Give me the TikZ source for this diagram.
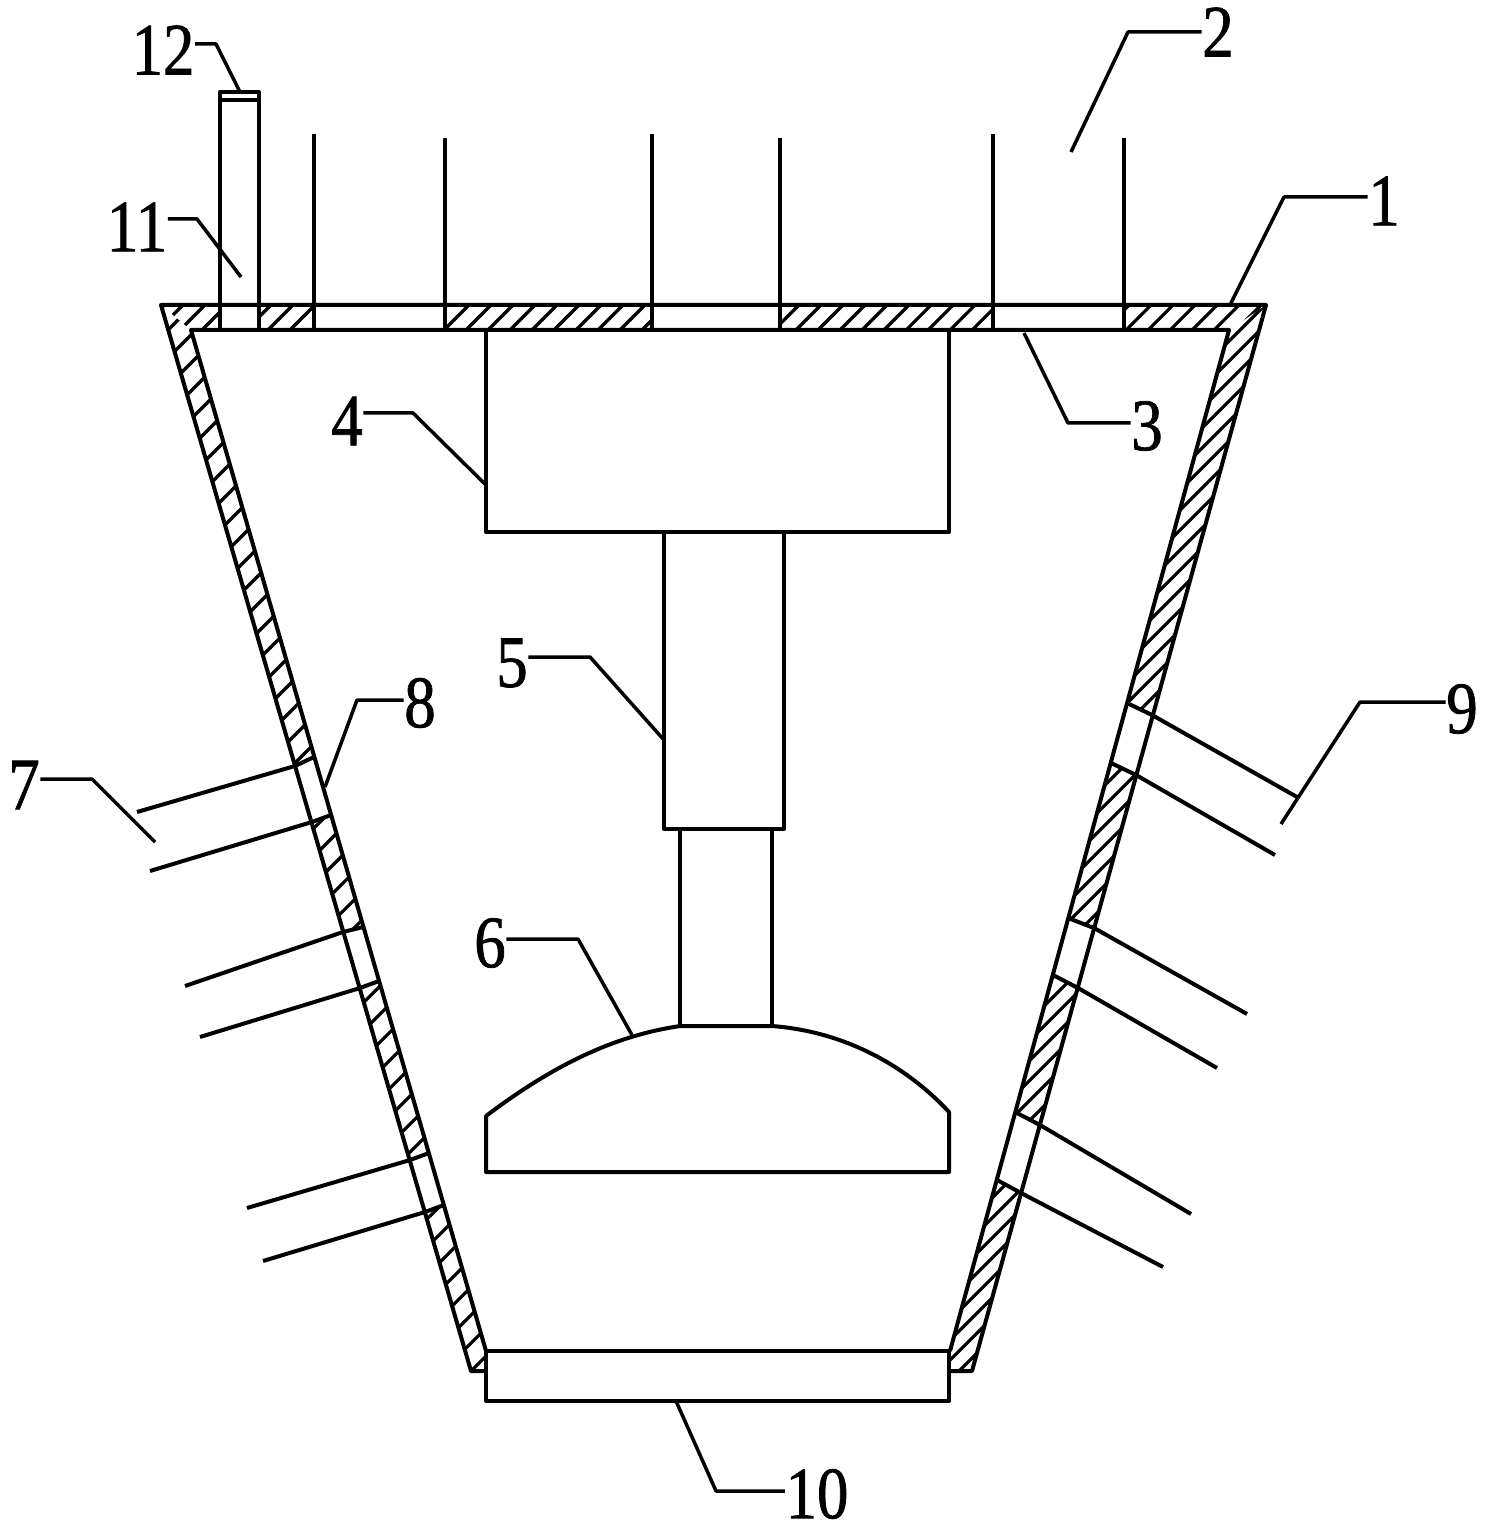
\documentclass[tikz,border=0pt]{standalone}
\usepackage{fontspec}
\newfontfamily\numfont{Liberation Serif}[FakeStretch=0.85, FakeBold=1]
\tikzset{
  part/.style={line width=0.04cm, line join=round},
  hatchline/.style={line width=0.032cm},
  leader/.style={line width=0.035cm, line join=round},
  number/.style={inner sep=0pt, font=\numfont\fontsize{21}{23}\selectfont},
}

\begin{document}
\begin{tikzpicture}[x=0.01cm, y=-0.01cm]
      \useasboundingbox (0, 0) rectangle (1489, 1525);
      % hatching of the shell
      \begin{scope}
        \clip (161, 305) -- (1266, 305) -- (1229, 330) -- (191, 330) -- cycle;
        \foreach \c in {466, 488, ..., 1620}
          \draw[hatchline] ({\c - 400}, 400) -- ({\c - 250}, 250);
      \end{scope}
      \begin{scope}
        \clip (161, 305) -- (191, 330) -- (486, 1351) -- (486, 1371) -- (471, 1371) -- cycle;
        \foreach \c in {470, 498, ..., 1880}
          \draw[hatchline] ({\c - 1400}, 1400) -- ({\c - 250}, 250);
      \end{scope}
      \begin{scope}
        \clip (1266, 305) -- (972, 1371) -- (950, 1371) -- (950, 1351) -- (1229, 330) -- cycle;
        \foreach \c in {1290, 1310, ..., 2360}
          \draw[hatchline] ({\c - 1400}, 1400) -- ({\c - 250}, 250);
      \end{scope}
      % openings in the top plate and in the walls
      \fill[white] (220, 303) rectangle (259, 332);
      \fill[white] (314, 303) rectangle (445, 332);
      \fill[white] (652, 303) rectangle (780, 332);
      \fill[white] (993, 303) rectangle (1124, 332);
      \fill[white] (295, 766) -- (314, 757) -- (331, 815) -- (312, 822) -- cycle;
      \fill[white] (343, 932) -- (363, 927) -- (379, 981) -- (360, 988) -- cycle;
      \fill[white] (410, 1160) -- (429, 1153) -- (444, 1205) -- (425, 1212) -- cycle;
      \fill[white] (1127, 703) -- (1152, 715) -- (1136, 775) -- (1111, 763) -- cycle;
      \fill[white] (1068, 918) -- (1094, 928) -- (1078, 988) -- (1053, 975) -- cycle;
      \fill[white] (1015, 1112) -- (1040, 1125) -- (1021, 1193) -- (997, 1180) -- cycle;
      % shell outline
      \draw[part] (486, 1371) -- (471, 1371) -- (161, 305) -- (1266, 305) -- (972, 1371) -- (950, 1371);
      \draw[part] (486, 1351) -- (191, 330) -- (1229, 330) -- (950, 1351);
      % ends of the wall openings
      \draw[part] (295, 766) -- (314, 757);
      \draw[part] (312, 822) -- (331, 815);
      \draw[part] (343, 932) -- (363, 927);
      \draw[part] (360, 988) -- (379, 981);
      \draw[part] (410, 1160) -- (429, 1153);
      \draw[part] (425, 1212) -- (444, 1205);
      \draw[part] (1127, 703) -- (1152, 715);
      \draw[part] (1111, 763) -- (1136, 775);
      \draw[part] (1068, 918) -- (1094, 928);
      \draw[part] (1053, 975) -- (1078, 988);
      \draw[part] (1015, 1112) -- (1040, 1125);
      \draw[part] (997, 1180) -- (1021, 1193);
      % blades on the top plate
      \draw[part] (314, 330) -- (314, 134);
      \draw[part] (445, 330) -- (445, 138);
      \draw[part] (652, 330) -- (652, 134);
      \draw[part] (780, 330) -- (780, 138);
      \draw[part] (993, 330) -- (993, 134);
      \draw[part] (1124, 330) -- (1124, 138);
      % rod and its cap
      \draw[part] (220, 330) -- (220, 92) -- (259, 92) -- (259, 330);
      \draw[part] (220, 100) -- (259, 100);
      % tubes on the left wall
      \draw[part] (137, 812) -- (295, 766);
      \draw[part] (150, 871) -- (312, 822);
      \draw[part] (185, 986) -- (343, 932);
      \draw[part] (200, 1037) -- (360, 988);
      \draw[part] (247, 1208) -- (410, 1160);
      \draw[part] (263, 1261) -- (425, 1212);
      % tubes on the right wall
      \draw[part] (1152, 715) -- (1297, 797);
      \draw[part] (1136, 775) -- (1275, 855);
      \draw[part] (1094, 928) -- (1247, 1014);
      \draw[part] (1078, 988) -- (1217, 1068);
      \draw[part] (1040, 1125) -- (1191, 1214);
      \draw[part] (1021, 1193) -- (1163, 1267);
      % middle parts
      \draw[part] (486, 330) rectangle (949, 532);
      \draw[part] (664, 532) rectangle (784, 829);
      \draw[part] (680, 829) rectangle (772, 1026);
      \draw[part] (486, 1116) .. controls (560, 1060) and (620, 1035) .. (680, 1026)
        -- (772, 1026) .. controls (850, 1032) and (910, 1070) .. (949, 1112)
        -- (949, 1172) -- (486, 1172) -- cycle;
      \draw[part, fill=white] (486, 1351) rectangle (949, 1401);
      % numbers
      \node[number] (lab1) at (1384, 201) {1};
      \node[number] (lab2) at (1218, 32) {2};
      \node[number] (lab3) at (1147, 426) {3};
      \node[number] (lab4) at (347, 421) {4};
      \node[number] (lab5) at (512, 663) {5};
      \node[number] (lab6) at (490, 943) {6};
      \node[number] (lab7) at (24, 785) {7};
      \node[number] (lab8) at (420, 703) {8};
      \node[number] (lab9) at (1462, 709) {9};
      \node[number] (lab10) at (817, 1494) {10};
      \node[number] (lab11) at (137, 227) {11};
      \node[number] (lab12) at (163, 50) {12};
      % free ends of the leaders
      \coordinate (tip1) at (1230, 305);
      \coordinate (tip2) at (1071, 152);
      \coordinate (tip3) at (1024, 333);
      \coordinate (tip4) at (486, 485);
      \coordinate (tip5) at (664, 740);
      \coordinate (tip6) at (632, 1035);
      \coordinate (tip7) at (155, 842);
      \coordinate (tip8) at (325, 787);
      \coordinate (tip9) at (1281, 824);
      \coordinate (tip10) at (676, 1401);
      \coordinate (tip11) at (241, 277);
      \coordinate (tip12) at (240, 92);
      % leaders
      \draw[leader] (lab1.west |- 0, 197) -- (1284, 197) -- (tip1);
      \draw[leader] (lab2.west |- 0, 32) -- (1128, 32) -- (tip2);
      \draw[leader] (lab3.west |- 0, 423) -- (1068, 423) -- (tip3);
      \draw[leader] (lab4.east |- 0, 413) -- (413, 413) -- (tip4);
      \draw[leader] (lab5.east |- 0, 657) -- (590, 657) -- (tip5);
      \draw[leader] (lab6.east |- 0, 939) -- (578, 939) -- (tip6);
      \draw[leader] (lab7.east |- 0, 779) -- (92, 779) -- (tip7);
      \draw[leader] (lab8.west |- 0, 700) -- (357, 700) -- (tip8);
      \draw[leader] (lab9.west |- 0, 702) -- (1360, 702) -- (tip9);
      \draw[leader] (lab10.west |- 0, 1491) -- (716, 1491) -- (tip10);
      \draw[leader] (lab11.east |- 0, 219) -- (197, 219) -- (tip11);
      \draw[leader] (lab12.east |- 0, 44) -- (216, 44) -- (tip12);
    \end{tikzpicture}
\end{document}
